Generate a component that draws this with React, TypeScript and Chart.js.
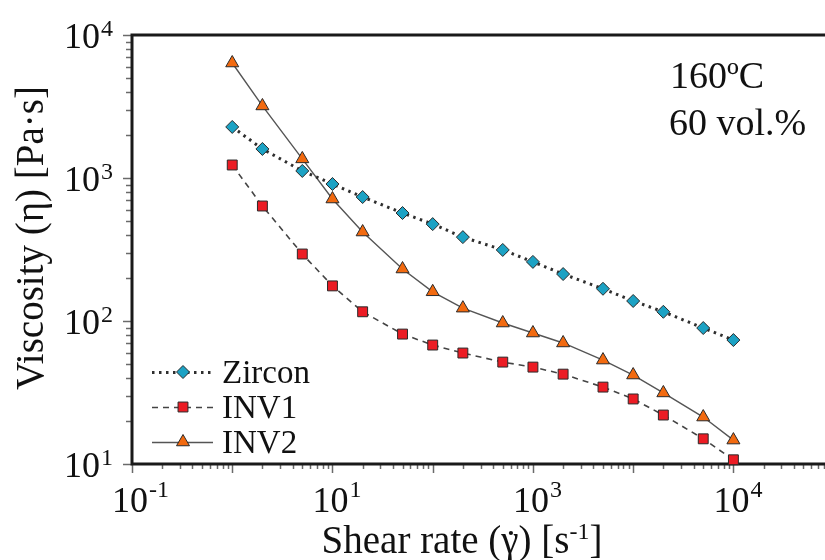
import React, { useEffect, useRef } from 'react';
import { Chart, registerables } from 'chart.js';

Chart.register(...registerables);

// ---- data ----
const shearRate = [1, 2, 5, 10, 20, 50, 100, 200, 500, 1000, 2000, 5000, 10000, 20000, 50000, 100000];
const zircon = [2275, 1596, 1120, 908, 736, 569, 476, 386, 314, 259, 213, 168, 138, 116, 89.3, 73.6];
const inv1 = [1233, 637, 294, 176, 116, 81, 67.9, 59.7, 51.6, 47.6, 42.5, 34.5, 28.5, 22.0, 15.0, 10.7];
const inv2 = [6370, 3190, 1360, 713, 419, 231, 160, 123, 96.8, 82.4, 70.2, 53.3, 41.9, 31.4, 21.3, 14.7];
const seriesNames = ['Zircon', 'INV1', 'INV2'];

// tick labels as printed in the reference (base 10 with exponent)
const xTickValues = [0.1, 10, 1000, 100000];
const xTickExponents = ['-1', '1', '3', '4'];
const yTickValues = [10, 100, 1000, 10000];
const yTickExponents = ['1', '2', '3', '4'];
const annotationLines = ['160ºC', '60 vol.%'];
const xAxisTitle = ['Shear rate (', 'γ', ') [s', '-1', ']'];
const yAxisTitle = 'Viscosity (η) [Pa·s]';

const xMin = 0.1;
const xMax = 8.2e5;
const yMin = 10;
const yMax = 10000;

const SERIF = '"Liberation Serif", "Times New Roman", serif';
const f = (px: number) => `${px}px ${SERIF}`;

const COLORS = {
  zircon: '#1ca2c4',
  inv1: '#ec1c24',
  inv2: '#f26a10',
  markerBorder: '#2a2a2a',
  text: '#111111',
  axis: '#1a1a1a',
  tick: '#6a6a6a',
};

const styles = [
  { fill: COLORS.zircon, shape: 'rectRot', radius: 6.5, line: '#2e2e2e', width: 3, dash: [2.5, 4.5] },
  { fill: COLORS.inv1, shape: 'rect', radius: 7, line: '#444444', width: 1.6, dash: [6, 5] },
  { fill: COLORS.inv2, shape: 'triangle', radius: 7.5, line: '#555555', width: 1.4, dash: [] as number[] },
];

function minorValues(min: number, max: number) {
  const out: { v: number; major: boolean }[] = [];
  for (let d = Math.floor(Math.log10(min)); d <= Math.ceil(Math.log10(max)); d++) {
    for (let m = 1; m <= 9; m++) {
      const v = m * Math.pow(10, d);
      if (v >= min * 0.999 && v <= max * 1.001) out.push({ v, major: m === 1 });
    }
  }
  return out;
}

function drawMarker(ctx: CanvasRenderingContext2D, shape: string, x: number, y: number, r: number, fill: string) {
  ctx.save();
  ctx.beginPath();
  if (shape === 'rectRot') {
    ctx.moveTo(x, y - r);
    ctx.lineTo(x + r, y);
    ctx.lineTo(x, y + r);
    ctx.lineTo(x - r, y);
    ctx.closePath();
  } else if (shape === 'rect') {
    const s = Math.SQRT1_2 * r;
    ctx.rect(x - s, y - s, 2 * s, 2 * s);
  } else {
    const a = Math.PI / 2;
    ctx.moveTo(x + Math.cos(-a) * r, y + Math.sin(-a) * r);
    ctx.lineTo(x + Math.cos(-a + (2 * Math.PI) / 3) * r, y + Math.sin(-a + (2 * Math.PI) / 3) * r);
    ctx.lineTo(x + Math.cos(-a + (4 * Math.PI) / 3) * r, y + Math.sin(-a + (4 * Math.PI) / 3) * r);
    ctx.closePath();
  }
  ctx.fillStyle = fill;
  ctx.fill();
  ctx.lineWidth = 1;
  ctx.strokeStyle = COLORS.markerBorder;
  ctx.setLineDash([]);
  ctx.stroke();
  ctx.restore();
}

const decorPlugin = {
  id: 'decor',
  beforeDatasetsDraw(chart: any) {
    const { ctx, chartArea, scales } = chart;
    const xs = scales.x;
    const ys = scales.y;
    ctx.save();
    // minor / major ticks
    ctx.strokeStyle = COLORS.tick;
    ctx.lineWidth = 1.5;
    for (const t of minorValues(yMin, yMax)) {
      const py = Math.round(ys.getPixelForValue(t.v)) + 0.5;
      const len = t.major ? 9 : 6;
      ctx.beginPath();
      ctx.moveTo(chartArea.left - len, py);
      ctx.lineTo(chartArea.left, py);
      ctx.stroke();
    }
    for (const t of minorValues(xMin, xMax)) {
      const px = Math.round(xs.getPixelForValue(t.v)) + 0.5;
      const len = t.major ? 9 : 5;
      ctx.beginPath();
      ctx.moveTo(px, chartArea.bottom);
      ctx.lineTo(px, chartArea.bottom + len);
      ctx.stroke();
    }
    // frame (top, left, bottom; right side is cropped)
    ctx.strokeStyle = COLORS.axis;
    ctx.lineWidth = 3;
    ctx.beginPath();
    ctx.moveTo(chartArea.right + 2, chartArea.top);
    ctx.lineTo(chartArea.left, chartArea.top);
    ctx.lineTo(chartArea.left, chartArea.bottom);
    ctx.lineTo(chartArea.right + 2, chartArea.bottom);
    ctx.stroke();
    ctx.restore();
  },
  afterDraw(chart: any) {
    const { ctx, chartArea, scales } = chart;
    const xs = scales.x;
    const ys = scales.y;
    ctx.save();
    ctx.fillStyle = COLORS.text;
    ctx.textBaseline = 'alphabetic';
    ctx.textAlign = 'left';

    // x tick labels
    xTickValues.forEach((v, i) => {
      const px = xs.getPixelForValue(v);
      ctx.font = f(36);
      const bw = ctx.measureText('10').width;
      const bx = px - bw / 2 - 2;
      ctx.fillText('10', bx, chartArea.bottom + 48);
      ctx.font = f(24);
      ctx.fillText(xTickExponents[i], bx + bw + 1, chartArea.bottom + 33);
    });
    // y tick labels
    yTickValues.forEach((v, i) => {
      const py = ys.getPixelForValue(v);
      ctx.font = f(36);
      const bw = ctx.measureText('10').width;
      const bx = chartArea.left - 32 - bw;
      ctx.fillText('10', bx, py + 13);
      ctx.font = f(24);
      ctx.fillText(yTickExponents[i], bx + bw + 1, py + 0.5);
    });

    // x axis title with dotted gamma and superscript
    const tf = 39;
    const sf = 24;
    const parts = xAxisTitle;
    ctx.font = f(tf);
    const w0 = ctx.measureText(parts[0]).width;
    const w1 = ctx.measureText(parts[1]).width;
    const w2 = ctx.measureText(parts[2]).width;
    const w4 = ctx.measureText(parts[4]).width;
    ctx.font = f(sf);
    const w3 = ctx.measureText(parts[3]).width;
    const total = w0 + w1 + w2 + w3 + w4;
    let tx = 462 - total / 2;
    const tb = 553;
    ctx.font = f(tf);
    ctx.fillText(parts[0], tx, tb);
    tx += w0;
    ctx.fillText(parts[1], tx, tb);
    ctx.beginPath();
    ctx.arc(tx + w1 / 2 + 1, tb - 20, 2.1, 0, Math.PI * 2);
    ctx.fill();
    tx += w1;
    ctx.fillText(parts[2], tx, tb);
    tx += w2;
    ctx.font = f(sf);
    ctx.fillText(parts[3], tx, tb - 14);
    tx += w3;
    ctx.font = f(tf);
    ctx.fillText(parts[4], tx, tb);

    // y axis title
    ctx.save();
    ctx.translate(43, 238);
    ctx.rotate(-Math.PI / 2);
    ctx.textAlign = 'center';
    ctx.font = f(39);
    ctx.fillText(yAxisTitle, 0, 0);
    ctx.restore();

    // annotation
    ctx.font = f(38);
    ctx.fillText(annotationLines[0], 670, 88);
    ctx.fillText(annotationLines[1], 669, 135);

    // legend
    const legendY = [372, 407, 442];
    seriesNames.forEach((name, i) => {
      const s = styles[i];
      const y = legendY[i];
      ctx.save();
      ctx.strokeStyle = s.line;
      ctx.lineWidth = s.width;
      ctx.setLineDash(s.dash);
      ctx.beginPath();
      ctx.moveTo(152, y + 0.5);
      ctx.lineTo(213, y + 0.5);
      ctx.stroke();
      ctx.restore();
      drawMarker(ctx, s.shape, 183, y, s.radius, s.fill);
      ctx.fillStyle = COLORS.text;
      ctx.font = f(33);
      ctx.textAlign = 'left';
      ctx.fillText(name, 222, y + 11);
    });
    ctx.restore();
  },
};

export default function App() {
  const ref = useRef<HTMLCanvasElement>(null);
  useEffect(() => {
    document.body.style.margin = '0';
    const canvas = ref.current;
    if (!canvas) return;
    const series = [zircon, inv1, inv2];
    const chart = new Chart(canvas, {
      type: 'line',
      data: {
        datasets: series.map((vals, i) => ({
          label: seriesNames[i],
          data: shearRate.map((x, j) => ({ x, y: vals[j] })),
          borderColor: styles[i].line,
          borderWidth: styles[i].width,
          borderDash: styles[i].dash,
          backgroundColor: styles[i].fill,
          pointStyle: styles[i].shape as any,
          pointRadius: styles[i].radius,
          pointBackgroundColor: styles[i].fill,
          pointBorderColor: COLORS.markerBorder,
          pointBorderWidth: 1,
          tension: 0,
          fill: false,
          clip: false as any,
        })),
      },
      options: {
        responsive: false,
        animation: false,
        devicePixelRatio: 1,
        layout: { autoPadding: false, padding: { left: 132, top: 35, right: 0, bottom: 96 } },
        plugins: { legend: { display: false }, tooltip: { enabled: false } },
        scales: {
          x: { type: 'logarithmic', min: xMin, max: xMax, display: false },
          y: { type: 'logarithmic', min: yMin, max: yMax, display: false },
        },
      },
      plugins: [decorPlugin],
    });
    return () => chart.destroy();
  }, []);
  return (
    <div style={{ width: 825, height: 560, overflow: 'hidden', background: '#ffffff' }}>
      <canvas ref={ref} width={825} height={560} style={{ display: 'block' }} />
    </div>
  );
}
